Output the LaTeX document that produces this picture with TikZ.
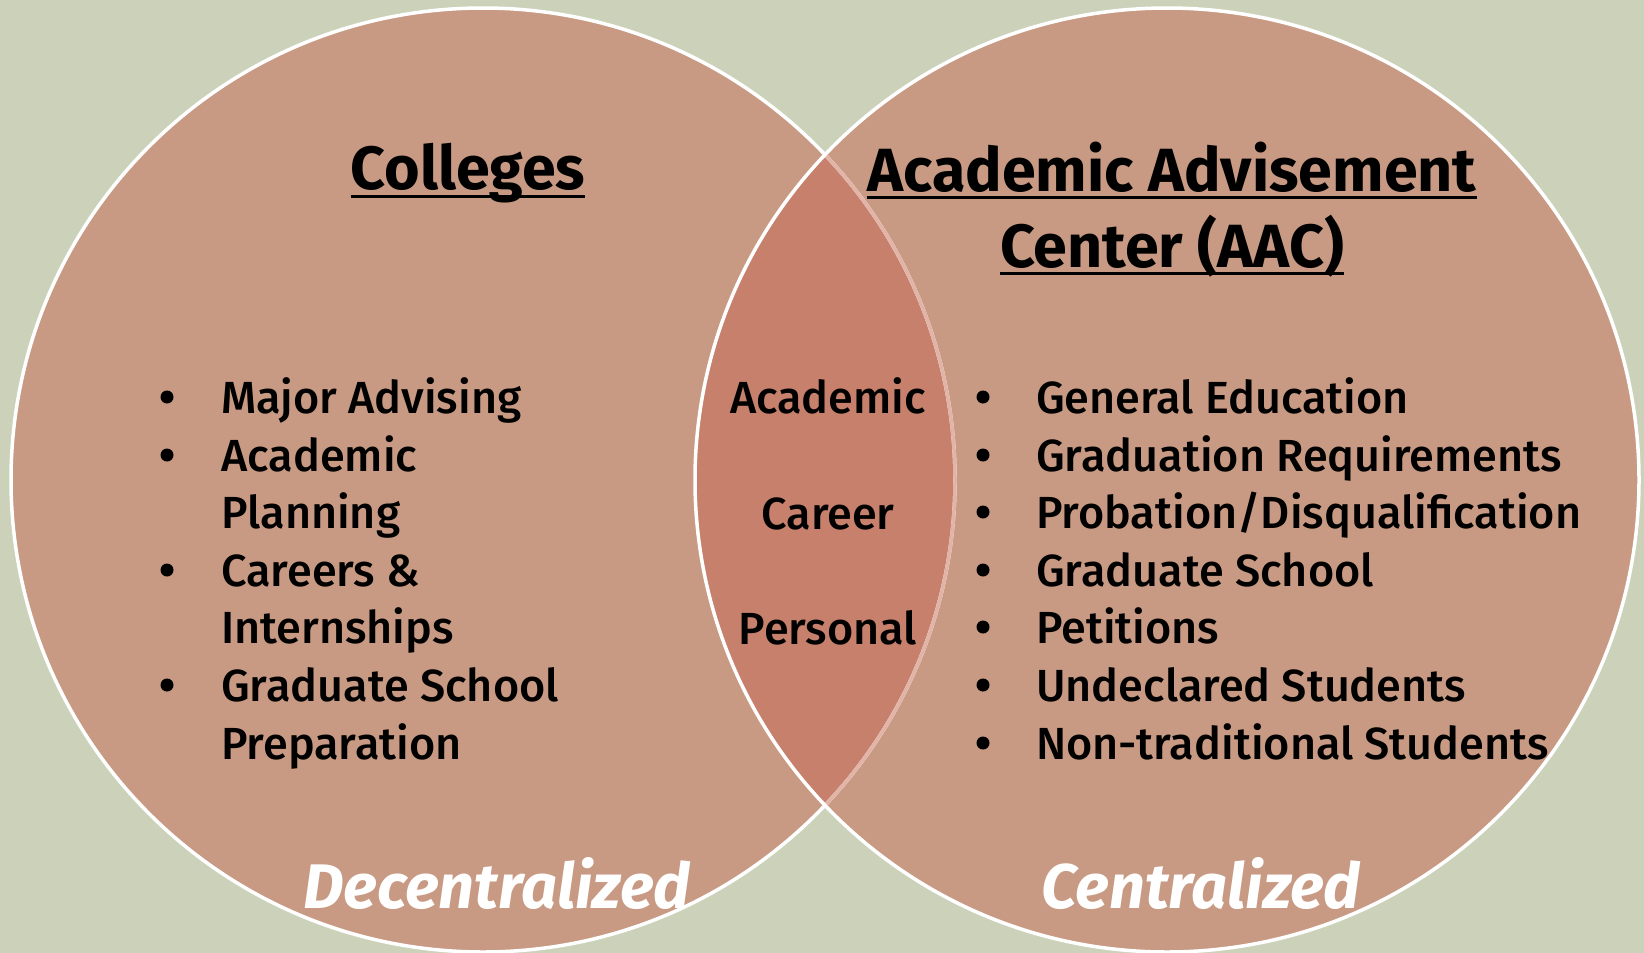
\documentclass[tikz,border=0pt]{standalone}
\usepackage{fontspec}
\setmainfont{Fira Sans}
\newfontfamily\itemfont{Fira Sans Medium}
\definecolor{bg}{HTML}{CCD2BA}
\definecolor{circ}{HTML}{C89A83}
\definecolor{lens}{HTML}{C6806C}
\definecolor{pinkline}{HTML}{E2B4A7}
\begin{document}
\begin{tikzpicture}[x=1pt,y=-1pt,
  item/.style={anchor=base west, inner sep=0pt, font=\itemfont\fontsize{45}{54}\selectfont},
  mid/.style={anchor=base, inner sep=0pt, font=\itemfont\fontsize{45}{54}\selectfont},
  head/.style={anchor=base, inner sep=0pt, font=\bfseries\fontsize{61}{73}\selectfont},
  tag/.style={anchor=base, inner sep=0pt, text=white, font=\bfseries\itshape\fontsize{63}{76}\selectfont},
  uline/.style={line width=3pt},
  bul/.style={fill=black},
  ring/.style={line width=3.5pt}]
\fill[bg] (0,0) rectangle (1644,953);
\useasboundingbox (0,0) rectangle (1644,953);
\coordinate (L) at (483,480);
\coordinate (R) at (1167,480);
\fill[circ] (L) circle[radius=472];
\fill[circ] (R) circle[radius=472];
\begin{scope}
  \clip (L) circle[radius=472];
  \fill[lens] (R) circle[radius=472];
\end{scope}
\draw[ring, white] (L) circle[radius=472];
\begin{scope}
  \clip (R) circle[radius=472];
  \draw[ring, pinkline] (L) circle[radius=472];
\end{scope}
\draw[ring, white] (R) circle[radius=472];

% headings
\node[head] (colleges) at (468,189) {Colleges};
\draw[uline] ([yshift=-7pt]colleges.base west) -- ([yshift=-7pt]colleges.base east);
\node[head] (aac1) at (1172,191) {Academic Advisement};
\draw[uline] ([yshift=-6pt]aac1.base west) -- ([yshift=-6pt]aac1.base east);
\node[head] (aac2) at (1172,267) {Center (AAC)};
\draw[uline] ([yshift=-6pt]aac2.base west) -- ([yshift=-6pt]aac2.base east);

% left list
\node[item] (l1) at (221,413) {Major Advising};
\node[item] (l2) at (221,471) {Academic};
\node[item] (l3) at (221,528) {Planning};
\node[item] (l4) at (221,586) {Careers \&};
\node[item] (l5) at (221,643) {Internships};
\node[item] (l6) at (221,701) {Graduate School};
\node[item] (l7) at (221,759) {Preparation};
\foreach \y in {413,471,586,701} \fill[bul] (167,\y-16) circle[radius=6.5];

% middle
\node[mid] (m1) at (828,413) {Academic};
\node[mid] (m2) at (828,529) {Career};
\node[mid] (m3) at (828,644) {Personal};

% right list
\node[item] (r1) at (1036,413) {General Education};
\node[item] (r2) at (1036,471) {Graduation Requirements};
\node[item] (r3) at (1036,528) {Probation/Disqualification};
\node[item] (r4) at (1036,586) {Graduate School};
\node[item] (r5) at (1036,643) {Petitions};
\node[item] (r6) at (1036,701) {Undeclared Students};
\node[item] (r7) at (1036,759) {Non-traditional Students};
\foreach \y in {413,471,528,586,643,701,759} \fill[bul] (983,\y-16) circle[radius=6.5];

% tags
\node[tag] (dec) at (497,908) {Decentralized};
\node[tag] (cen) at (1201,908) {Centralized};
\end{tikzpicture}
\end{document}
